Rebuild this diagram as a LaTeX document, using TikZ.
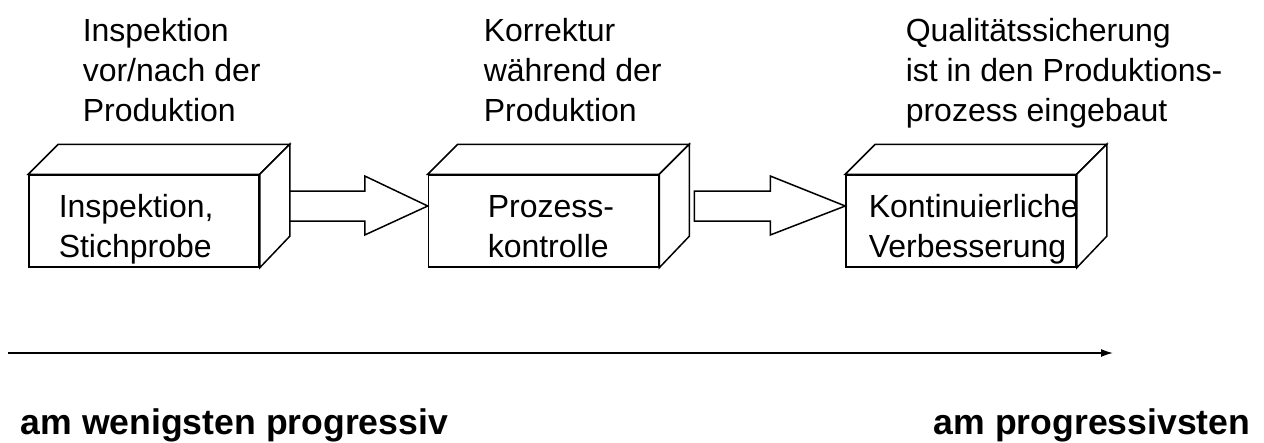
\documentclass[tikz,border=0pt]{standalone}
\usepackage{fontspec}
\setmainfont{Liberation Sans}
\usetikzlibrary{arrows.meta,calc}
\begin{document}
\begin{tikzpicture}[x=1pt,y=-1pt,line width=1.5pt,line join=miter,
  face/.style={draw,fill=white},
  frontbox/.style={draw,fill=white,minimum width=230pt,minimum height=92pt,inner sep=0pt},
  lbl/.style={anchor=base west,inner sep=0pt,align=left,font=\fontsize{32}{40}\selectfont},
  big/.style={anchor=base west,inner sep=0pt,font=\bfseries\fontsize{35.6}{44}\selectfont}]
\useasboundingbox (0,0) rectangle (1264,442);

% boxes (front faces)
\node[frontbox] (b1) at (144,221) {};
\node[frontbox] (b2) at (543.5,221) {};
\node[frontbox] (b3) at (961,221) {};

% depth faces
\foreach \b in {b1,b2,b3}{
  \coordinate (\b bk) at ($(\b.north east)+(30,-30)$);
  \draw[face] (\b.north west) -- ++(30,-30) -- (\b bk) -- (\b.north east) -- cycle;
  \draw[face] (\b.north east) -- (\b bk) -- ++(0,92) -- (\b.south east) -- cycle;
}

% block arrows
\coordinate (a1s) at ($(b1.east)+(30,-15)$);
\coordinate (a1t) at ($(b2.west)+(0,-15)$);
\draw[face] ($(a1s)+(0,-15)$) -- ($(a1s)+(75,-15)$) -- ($(a1s)+(75,-30)$) -- (a1t)
  -- ($(a1s)+(75,29)$) -- ($(a1s)+(75,15)$) -- ($(a1s)+(0,15)$) -- cycle;
\coordinate (a2s) at ($(b2.east)+(35,-15)$);
\coordinate (a2t) at ($(b3.west)+(0,-15)$);
\draw[face] ($(a2s)+(0,-15)$) -- ($(a2s)+(76,-15)$) -- ($(a2s)+(76,-30)$) -- (a2t)
  -- ($(a2s)+(76,29)$) -- ($(a2s)+(76,15)$) -- ($(a2s)+(0,15)$) -- cycle;

% box texts (anchor = baseline of last line)
\node[lbl] (i1) at (58,257) {Inspektion,\\Stichprobe};
\node[lbl] (i2) at (487,257) {Prozess-\\kontrolle};
\node[lbl] (i3) at (868,257) {Kontinuierliche\\Verbesserung};

% top texts (anchor = baseline of last line)
\node[lbl] (t1) at (82,121) {Inspektion\\vor/nach der\\Produktion};
\node[lbl] (t2) at (483,121) {Korrektur\\während der\\Produktion};
\node[lbl] (t3) at (905,121) {Qualitätssicherung\\ist in den Produktions-\\prozess eingebaut};

% bottom axis
\coordinate (s) at (8,353);
\coordinate (e) at (1113,353);
\draw[-{Latex[length=12pt,width=8pt]}] (s) -- (e);

\node[big] (l) at (20,434) {am wenigsten progressiv};
\node[big] (r) at (933,434) {am progressivsten};
\end{tikzpicture}
\end{document}
